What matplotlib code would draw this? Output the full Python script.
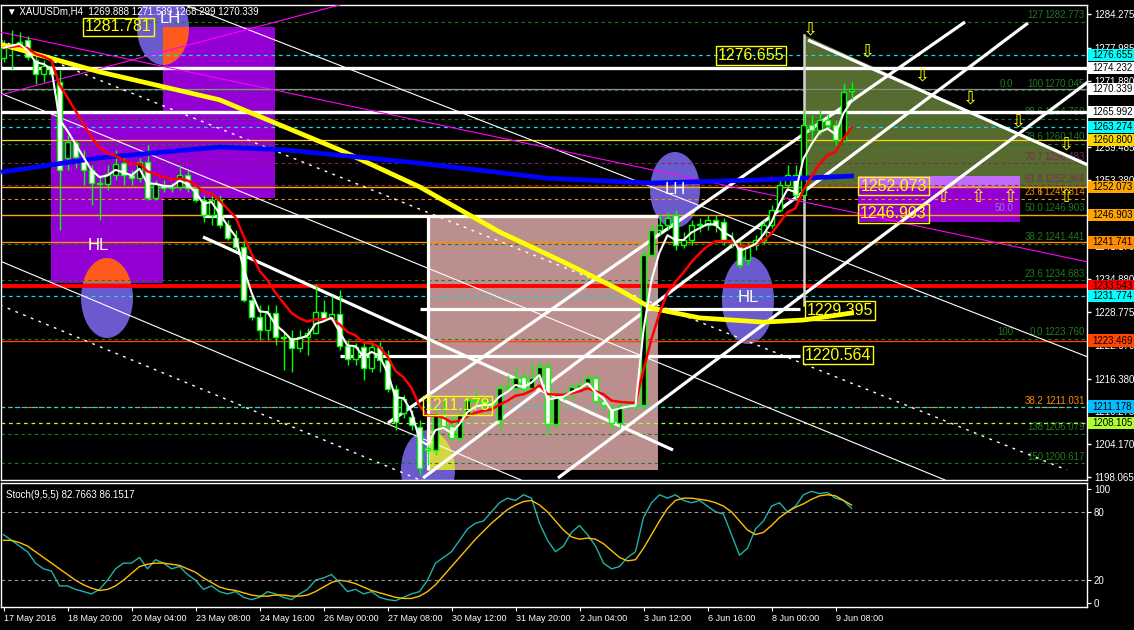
# -*- coding:utf-8 -*-
import numpy as np
import pandas as pd
import matplotlib
matplotlib.use('Agg')
import matplotlib.pyplot as plt
import matplotlib.transforms as mtransforms
from matplotlib.patches import Rectangle, Ellipse, Polygon

plt.rcParams['font.family'] = ['Liberation Sans', 'DejaVu Sans']

# XAUUSDm H4 candles, 17 May 2016 .. 9 Jun 2016
opens = [1276.1, 1278.0, 1278.7, 1279.4, 1275.7, 1273.1, 1274.6, 1271.6, 1257.5, 1260.2,
         1257.1, 1255.2, 1252.8, 1252.6, 1254.3, 1256.5, 1254.3, 1253.7, 1256.7, 1250.0,
         1252.4, 1251.9, 1252.1, 1254.3, 1251.9, 1249.6, 1246.8, 1249.6, 1245.0, 1242.6,
         1240.9, 1231.0, 1227.9, 1225.4, 1228.6, 1224.1, 1223.9, 1222.1, 1224.1, 1224.9,
         1228.8, 1227.5, 1228.4, 1222.5, 1220.0, 1222.3, 1218.4, 1222.3, 1219.9, 1214.4,
         1210.0, 1209.2, 1207.4, 1203.5, 1203.1, 1209.6, 1207.6, 1205.3, 1209.6, 1212.4,
         1212.2, 1212.0, 1208.7, 1214.6, 1214.6, 1216.7, 1214.6, 1216.5, 1218.5, 1207.9,
         1213.0, 1213.9, 1214.8, 1215.6, 1216.5, 1212.2, 1210.9, 1208.1, 1211.3, 1211.5,
         1211.5, 1239.4, 1244.1, 1245.0, 1246.8, 1241.3, 1242.2, 1245.0, 1245.0, 1245.9,
         1245.5, 1242.2, 1241.3, 1238.5, 1241.3, 1242.2, 1245.0, 1247.8, 1252.4, 1254.3,
         1250.6, 1263.6, 1262.7, 1264.5, 1263.6, 1260.8, 1269.888]
highs = [1279.4, 1281.3, 1280.9, 1280.2, 1276.5, 1275.7, 1275.3, 1273.8, 1261.7, 1260.8,
         1259.0, 1256.2, 1254.3, 1256.2, 1259.0, 1258.0, 1255.2, 1257.5, 1259.9, 1253.4,
         1253.4, 1252.8, 1256.2, 1255.2, 1252.4, 1250.6, 1250.6, 1250.6, 1245.9, 1244.1,
         1242.2, 1231.9, 1230.1, 1230.1, 1230.1, 1225.1, 1225.4, 1225.4, 1225.8, 1234.0,
         1231.0, 1231.8, 1232.9, 1223.6, 1223.0, 1223.2, 1223.2, 1223.2, 1221.7, 1215.2,
         1213.3, 1210.5, 1208.7, 1205.0, 1210.5, 1212.4, 1209.6, 1210.2, 1213.3, 1214.3,
         1213.3, 1213.3, 1215.6, 1217.1, 1218.5, 1217.6, 1219.5, 1219.5, 1219.5, 1213.9,
         1214.3, 1215.4, 1216.1, 1217.2, 1217.1, 1212.8, 1211.5, 1212.4, 1212.4, 1212.4,
         1240.3, 1245.0, 1246.8, 1247.4, 1247.8, 1243.7, 1245.9, 1246.3, 1246.8, 1246.8,
         1246.3, 1243.7, 1242.2, 1241.8, 1243.1, 1245.9, 1248.7, 1253.4, 1256.2, 1256.2,
         1266.4, 1265.5, 1266.4, 1265.5, 1264.5, 1271.4, 1271.539]
lows = [1275.3, 1273.8, 1277.6, 1275.7, 1271.2, 1271.6, 1272.4, 1244.1, 1255.2, 1255.6,
        1252.4, 1248.7, 1245.9, 1251.5, 1253.4, 1252.4, 1252.4, 1253.0, 1249.6, 1249.6,
        1251.2, 1251.2, 1251.5, 1251.2, 1249.3, 1245.5, 1245.0, 1244.4, 1242.2, 1240.3,
        1230.7, 1227.3, 1223.6, 1223.6, 1222.6, 1218.0, 1217.6, 1221.3, 1220.8, 1224.7,
        1227.3, 1227.3, 1221.7, 1218.9, 1218.9, 1216.1, 1217.6, 1217.6, 1213.9, 1206.8,
        1209.1, 1206.8, 1198.5, 1200.3, 1202.2, 1206.8, 1205.0, 1205.0, 1208.7, 1211.5,
        1210.9, 1210.5, 1206.8, 1213.9, 1213.9, 1213.9, 1214.3, 1216.1, 1205.9, 1207.2,
        1212.4, 1212.4, 1214.3, 1214.6, 1211.7, 1210.5, 1206.8, 1207.2, 1210.5, 1210.5,
        1210.9, 1238.9, 1243.1, 1244.1, 1240.3, 1240.7, 1241.3, 1243.7, 1244.1, 1243.7,
        1241.3, 1240.7, 1237.0, 1237.5, 1240.3, 1241.5, 1244.4, 1247.4, 1251.5, 1249.6,
        1249.6, 1260.8, 1261.7, 1262.7, 1259.9, 1260.4, 1268.299]
closes = [1278.0, 1278.7, 1279.1, 1276.3, 1273.1, 1274.6, 1273.1, 1255.2, 1260.4, 1257.6,
          1255.2, 1252.8, 1252.6, 1254.5, 1256.3, 1254.3, 1253.7, 1256.7, 1250.0, 1252.6,
          1251.9, 1252.1, 1254.3, 1251.9, 1249.6, 1246.8, 1249.6, 1245.0, 1242.6, 1240.9,
          1231.0, 1227.9, 1225.4, 1228.6, 1224.1, 1223.9, 1222.1, 1224.1, 1224.9, 1228.8,
          1227.5, 1228.4, 1222.5, 1220.0, 1222.3, 1218.4, 1222.3, 1219.9, 1214.4, 1208.3,
          1212.6, 1207.7, 1199.7, 1203.1, 1209.6, 1207.6, 1205.3, 1209.6, 1212.4, 1212.2,
          1211.8, 1211.5, 1214.6, 1214.8, 1216.5, 1214.4, 1216.5, 1218.5, 1207.9, 1213.0,
          1213.3, 1214.8, 1215.2, 1216.5, 1212.2, 1211.5, 1208.1, 1211.3, 1211.5, 1211.6,
          1239.4, 1244.1, 1245.0, 1246.3, 1241.3, 1242.2, 1245.0, 1245.2, 1245.9, 1245.0,
          1242.2, 1242.0, 1237.5, 1241.3, 1242.2, 1245.0, 1247.8, 1252.4, 1254.3, 1250.6,
          1263.6, 1262.7, 1264.5, 1263.6, 1260.8, 1269.7, 1270.339]

# Stochastic(9,5,5) main / signal
stoch_k = [60, 55, 50, 45, 35, 30, 28, 15, 15, 12, 10, 8, 12, 20, 30, 35, 35, 40, 30, 38,
           35, 30, 32, 25, 20, 12, 15, 10, 8, 10, 5, 3, 5, 10, 8, 5, 3, 8, 12, 20,
           22, 25, 18, 10, 12, 8, 10, 5, 3, 2, 5, 8, 10, 20, 35, 40, 45, 55, 65, 70,
           72, 80, 88, 92, 90, 95, 92, 70, 55, 45, 50, 62, 68, 60, 50, 35, 30, 32, 40, 45,
           75, 88, 95, 92, 95, 90, 88, 90, 85, 80, 78, 60, 42, 48, 65, 72, 85, 88, 80, 85,
           95, 98, 96, 97, 92, 90, 83]
stoch_d = [55, 55, 53, 50, 45, 40, 35, 30, 25, 20, 16, 13, 11, 12, 15, 20, 26, 32, 34, 35,
           35, 34, 33, 30, 27, 22, 18, 14, 12, 11, 9, 7, 6, 6, 7, 7, 6, 6, 7, 10,
           14, 18, 20, 19, 17, 14, 11, 9, 7, 5, 4, 4, 6, 10, 16, 24, 32, 40, 48, 56,
           63, 70, 76, 82, 86, 89, 90, 86, 80, 72, 64, 58, 56, 57, 56, 52, 46, 40, 37, 38,
           48, 60, 72, 83, 90, 92, 92, 91, 90, 88, 85, 80, 72, 64, 60, 62, 68, 75, 80, 84,
           87, 91, 94, 95, 94, 90, 86]

# slow moving averages (bar index, price)
ma_yellow_x = [0, 12, 27, 42, 52, 62, 70, 77, 81, 87, 95, 100, 106]
ma_yellow_y = [1278.5, 1273.5, 1268.3, 1259.0, 1252.1, 1243.7, 1238.1, 1232.9, 1229.5,
               1227.7, 1226.9, 1227.3, 1228.6]
ma_blue_x = [0, 12, 27, 35, 52, 68, 81, 95, 106]
ma_blue_y = [1254.9, 1257.5, 1259.5, 1259.0, 1256.5, 1253.7, 1252.8, 1253.4, 1254.1]

date_labels = ['17 May 2016', '18 May 20:00', '20 May 04:00', '23 May 08:00', '24 May 16:00',
               '26 May 00:00', '27 May 08:00', '30 May 12:00', '31 May 20:00', '2 Jun 04:00',
               '3 Jun 12:00', '6 Jun 16:00', '8 Jun 00:00', '9 Jun 08:00']
price_ticks = [1284.275, 1277.985, 1271.880, 1265.775, 1259.485, 1253.380, 1247.275,
               1241.170, 1234.880, 1228.775, 1222.670, 1216.380, 1210.275, 1204.170, 1198.065]

# price labels on the right scale
label_prices = [1276.655, 1274.232, 1270.339, 1265.992, 1263.274, 1260.800, 1252.073,
                1246.903, 1241.741, 1233.543, 1231.774, 1223.469, 1211.178, 1208.105]
label_colors = ['#00ffff', 'white', 'white', 'white', '#00ffff', '#ffd700', '#ffa500',
                '#ffa500', '#ff8c00', '#ff0000', '#00ffff', '#ff4500', '#00bfff', '#adff2f']

# fibo levels
fib_prices = [1282.773, 1270.045, 1264.769, 1260.140, 1256.483, 1252.364, 1249.814,
              1246.903, 1241.441, 1234.683, 1223.760, 1211.031, 1206.079, 1200.617]
fib_names = ['127', '100', '88.6', '78.6', '70.7', '61.8', '23.6', '50.0', '38.2', '23.6',
             '0.0', '38.2', '138', '150']

n = len(closes)
x = np.arange(n)
df = pd.DataFrame({'o': opens, 'h': highs, 'l': lows, 'c': closes})
ma_white = df['c'].ewm(span=3, adjust=False).mean()
ma_red = df['c'].ewm(span=8, adjust=False).mean()

fig = plt.figure(figsize=(11.34, 6.3), dpi=100, facecolor='black')
ax = fig.add_axes([1 / 1134, 150 / 630, 1086 / 1134, 475 / 630], facecolor='black')
ax2 = fig.add_axes([1 / 1134, 23 / 630, 1086 / 1134, 124 / 630], facecolor='black')

XMIN, XMAX = -0.3125, 135.4375
ax.set_xlim(XMIN, XMAX)
ax.set_ylim(1197.511, 1285.951)
ax2.set_xlim(XMIN, XMAX)
ax2.set_ylim(-3.5, 105.3)

# ---- background objects (MT4 draws them xor'ed) ----
purple = '#9400d3'
rect1 = Rectangle((19.94, 1250.02), 14.0, 31.84, facecolor=purple, edgecolor='none', zorder=1)
rect2 = Rectangle((5.94, 1234.19), 14.0, 31.65, facecolor=purple, edgecolor='none', zorder=1)
rect3 = Rectangle((106.81, 1245.55), 20.25, 8.56, facecolor=purple, edgecolor='none', zorder=1)
pink = Rectangle((53.06, 1199.37), 28.75, 47.29, facecolor='#bc8f8f', edgecolor='none', zorder=1)
olive = Polygon([(100.06, 1280.37), (135.56, 1256.16), (135.56, 1252.07), (100.06, 1252.07)],
                closed=True, facecolor='#556b2f', edgecolor='none', zorder=1)
for p in (rect1, rect2, rect3, pink, olive):
    ax.add_patch(p)
mix = Polygon([(100.06, 1280.37), (135.56, 1256.16), (135.56, 1252.07), (100.06, 1252.07)],
              closed=True, facecolor='#c16bfc', edgecolor='none', zorder=1.2)
ax.add_patch(mix)
mix.set_clip_path(rect3)

# ellipses: (cx, cy, w, h, rect it overlaps, xor colour)
ellipses = [(19.94, 1281.67, 6.5, 13.8, rect1, '#fe5a1e'),
            (12.94, 1231.39, 6.5, 14.9, rect2, '#fe5a1e'),
            (83.94, 1251.51, 6.25, 14.15, pink, '#d6d542'),
            (93.06, 1231.02, 6.5, 16.4, None, None),
            (53.06, 1199.37, 6.75, 14.9, pink, '#d6d542')]
for cx, cy, w, h, r, col in ellipses:
    ax.add_patch(Ellipse((cx, cy), w, h, facecolor='#6a5acd', edgecolor='none', zorder=1.5))
    if r is not None:
        e2 = Ellipse((cx, cy), w, h, facecolor=col, edgecolor='none', zorder=1.6)
        ax.add_patch(e2)
        e2.set_clip_path(r)

# ---- horizontal levels ----
green = '#1e7a1e'
maroon = '#7a2e52'
fib_cols = [green, green, green, green, maroon, maroon, '#ff8c00', green, green, green,
            green, '#ff8c00', green, green]
for p, nm, col in zip(fib_prices, fib_names, fib_cols):
    ax.axhline(p, color=col, lw=0.8, ls=(0, (3, 3)), zorder=2)
    ax.text(129.94, p + 0.3, nm, color=col, fontsize=7, ha='right', va='bottom', zorder=2.1)
    ax.text(135.19, p + 0.3, ('I ' if nm == '23.6' and col != green else '') + '%.3f' % p,
            color=col, fontsize=7, ha='right', va='bottom', zorder=2.1)
ax.text(126.19, 1270.345, '0.0', color=green, fontsize=7, ha='right', va='bottom', zorder=2.1)
ax.text(126.19, 1224.06, '100', color=green, fontsize=7, ha='right', va='bottom', zorder=2.1)
ax.text(126.19, 1247.2, '50.0', color='#a070d0', fontsize=7, ha='right', va='bottom', zorder=2.1)

for p in (1276.655, 1263.274, 1231.774, 1211.178):
    ax.axhline(p, color='#00e5ee', lw=0.9, ls=(0, (3, 3)), zorder=2.2)
ax.axhline(1208.105, color='#adff2f', lw=0.9, ls=(0, (3, 3)), zorder=2.2)
ax.axhline(1270.339, color='#8c8c8c', lw=0.9, zorder=2.2)
ax.axhline(1260.800, color='#ffd700', lw=0.9, zorder=2.2)
for p in (1252.073, 1246.903):
    ax.axhline(p, color='#ffa500', lw=1.0, zorder=2.2)
ax.axhline(1241.741, color='#ff8c00', lw=1.0, zorder=2.2)
ax.axhline(1223.469, color='#ff4500', lw=1.0, zorder=2.2)
ax.axhline(1233.543, color='#ff0000', lw=2.8, zorder=2.3)
for p in (1274.232, 1265.992):
    ax.axhline(p, color='white', lw=2.4, zorder=2.3)

# ---- trend lines ----
thick = [((24.94, 83.69), (1242.76, 1203.10)),
         ((48.06, 120.19), (1208.12, 1282.79)),
         ((52.44, 128.06), (1197.88, 1282.60)),
         ((69.31, 135.56), (1197.88, 1271.61)),
         ((100.56, 135.56), (1279.43, 1256.16)),
         ((52.06, 99.56), (1229.395, 1229.395)),
         ((42.06, 99.56), (1220.564, 1220.564)),
         ((24.94, 81.81), (1246.66, 1246.66)),
         ((53.06, 53.06), (1246.66, 1199.37))]
for xs, ys in thick:
    ax.plot(xs, ys, color='white', lw=2.3, zorder=3, solid_capstyle='butt')
ax.plot([100.06, 100.06], [1280.37, 1230.09], color='#d0d0d0', lw=1.8, zorder=3)
thin = [((22.69, 135.56), (1285.95, 1220.41)),
        ((-0.44, 117.69), (1269.57, 1197.51)),
        ((-0.44, 64.69), (1238.29, 1197.51))]
for xs, ys in thin:
    ax.plot(xs, ys, color='white', lw=0.8, zorder=3)
dotted = [((-0.44, 132.94), (1279.43, 1199.37)),
          ((-0.44, 52.06), (1230.09, 1197.51))]
for xs, ys in dotted:
    ax.plot(xs, ys, color='white', lw=1.0, ls=(0, (2, 4)), zorder=3)
ax.plot([-0.44, 135.56], [1280.92, 1238.10], color='#ff00ff', lw=0.8, zorder=3)
ax.plot([-0.44, 42.94], [1269.19, 1286.32], color='#ff00ff', lw=0.8, zorder=3)

# ---- candles ----
body_col = ['black' if c > o else 'white' for o, c in zip(opens, closes)]
ax.vlines(x, lows, highs, color='#00ff00', lw=1.0, zorder=4)
ax.bar(x, df['c'] - df['o'], bottom=df['o'], width=0.62, color=body_col,
       edgecolor='#00ff00', linewidth=1.0, zorder=4.1)

# ---- moving averages ----
ax.plot(ma_yellow_x, ma_yellow_y, color='#ffff00', lw=3.4, zorder=4.5)
ax.plot(ma_blue_x, ma_blue_y, color='#0000ff', lw=3.4, zorder=4.5)
ax.plot(x, ma_red, color='#ff0000', lw=1.8, zorder=4.6)
ax.plot(x, ma_white, color='white', lw=1.5, zorder=4.7)

# ---- labels on the chart ----
box_labels = [(14.38, 1281.86, '1281.781'), (93.44, 1276.55, '1276.655'),
              (111.25, 1252.25, '1252.073'), (111.25, 1247.13, '1246.903'),
              (104.56, 1229.07, '1229.395'), (104.31, 1220.78, '1220.564'),
              (56.75, 1211.38, '1211.178')]
for bx, by, s in box_labels:
    ax.text(bx, by, s, color='#ffff00', fontsize=11.5, ha='center', va='center', zorder=6,
            bbox=dict(boxstyle='square,pad=0.12', facecolor='none', edgecolor='#ffff00', lw=1))

for lx, ly, s in [(20.81, 1283.5, 'LH'), (11.81, 1241.26, 'HL'),
                  (83.94, 1251.51, 'LH'), (93.06, 1231.4, 'HL')]:
    ax.text(lx, ly, s, color='white', fontsize=12, ha='center', va='center', zorder=6)

down_x = [100.81, 107.94, 114.81, 120.81, 126.81, 132.81]
down_y = [1281.3, 1277.2, 1272.9, 1268.6, 1264.2, 1259.9]
for ax_, ay_ in zip(down_x, down_y):
    ax.text(ax_, ay_, '\u21e9', color='#ffff00', fontsize=13, family='DejaVu Sans',
            ha='center', va='center', zorder=6)
for ax_ in [117.44, 121.81, 125.81, 132.81]:
    ax.text(ax_, 1250.2, '\u21e7', color='#ffff00', fontsize=13, family='DejaVu Sans',
            ha='center', va='center', zorder=6)

# ---- price scale ----
ax.yaxis.tick_right()
ax.set_yticks(price_ticks)
ax.set_yticklabels(['%.3f' % p for p in price_ticks])
ax.tick_params(axis='y', colors='white', labelsize=7, length=3, pad=2, width=1)
ax.tick_params(axis='x', bottom=False, labelbottom=False)
for sp in ax.spines.values():
    sp.set_color('white')
    sp.set_linewidth(1)

trans_lab = mtransforms.blended_transform_factory(fig.transFigure, ax.transData)
for p, col in zip(label_prices, label_colors):
    ax.add_patch(Rectangle((1088 / 1134, p - 1.15), 46 / 1134, 2.3, transform=trans_lab,
                           facecolor=col, edgecolor='none', clip_on=False, zorder=10))
    ax.text(1092 / 1134, p, '%.3f' % p, transform=trans_lab, color='black', fontsize=7,
            ha='left', va='center', clip_on=False, zorder=11)

fig.text(7 / 1134, 1 - 11 / 630, '\u25bc XAUUSDm,H4  1269.888 1271.539 1268.299 1270.339',
         color='white', fontsize=7, va='center', ha='left')

# ---- stochastic ----
ax2.plot(x, stoch_k, color='#20b2aa', lw=1.0)
ax2.plot(x, stoch_d, color='#ffc000', lw=1.0)
for lv in (80, 20):
    ax2.axhline(lv, color='#a0a0a0', lw=0.8, ls=(0, (3, 3)))
ax2.text(0.005, 0.9, 'Stoch(9,5,5) 82.7663 86.1517', transform=ax2.transAxes,
         color='white', fontsize=7, va='center')
ax2.yaxis.tick_right()
ax2.set_yticks([100, 80, 20, 0])
ax2.set_yticklabels(['100', '80', '20', '0'])
ax2.tick_params(axis='y', colors='white', labelsize=7, length=3, pad=2)
ax2.set_xticks(np.arange(0, len(date_labels) * 8, 8))
ax2.set_xticklabels(date_labels, ha='left')
ax2.tick_params(axis='x', colors='white', labelsize=6.5, length=3, pad=2)
for sp in ax2.spines.values():
    sp.set_color('white')
    sp.set_linewidth(1)

fig.savefig('out.png', dpi=100, facecolor='black')
